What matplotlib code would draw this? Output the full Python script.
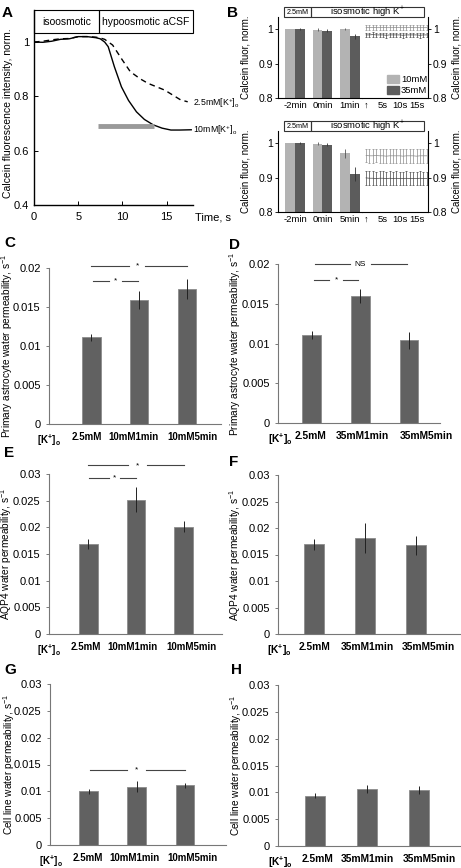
import numpy as np
import matplotlib
matplotlib.use('Agg')
from matplotlib import pyplot as plt
from matplotlib.patches import Rectangle, Patch

plt.rcParams['font.family'] = ['Liberation Sans', 'DejaVu Sans']
plt.rcParams['mathtext.fontset'] = 'custom'
plt.rcParams['mathtext.rm'] = 'Liberation Sans'
plt.rcParams['mathtext.it'] = 'Liberation Sans:italic'
plt.rcParams['mathtext.bf'] = 'Liberation Sans:bold'

W, H = 461, 868

# ---- panel A : calcein trace
t_10mM = [0, 1, 2, 3, 4, 5, 6, 7, 7.5, 8, 8.4, 9.1, 9.9, 10.7, 11.6, 12.5, 13.5, 14.5, 15.5, 16.5, 17.8]
f_10mM = [1.0, 0.999, 1.003, 1.01, 1.012, 1.02, 1.02, 1.016, 1.012, 1.0, 0.983, 0.909, 0.835, 0.785,
          0.743, 0.715, 0.695, 0.683, 0.676, 0.676, 0.677]
t_25mM = [0, 1, 2, 3, 4, 5, 6, 7, 7.5, 8, 8.9, 10.0, 10.9, 12.0, 12.9, 14.8, 16.6, 17.4]
f_25mM = [1.0, 1.003, 1.008, 1.012, 1.013, 1.02, 1.02, 1.018, 1.015, 1.01, 0.989, 0.934, 0.891,
          0.865, 0.848, 0.823, 0.787, 0.78]
fit_window = [7.3, 13.6]
fit_level = 0.69
switch_time = 7.4

# ---- panel B : bar + time course
b_cats_top = ['-2min', '0min', '1min']
b_cats_bot = ['-2min', '0min', '5min']
b10_top = [1.0, 0.998, 1.001]
b10_top_err = [0.001, 0.004, 0.003]
b35_top = [1.0, 0.995, 0.979]
b35_top_err = [0.002, 0.004, 0.008]
b10_bot = [1.0, 0.998, 0.970]
b10_bot_err = [0.001, 0.004, 0.012]
b35_bot = [1.0, 0.995, 0.910]
b35_bot_err = [0.002, 0.004, 0.020]

ts_time = list(range(19))
ts10_top = [1.004, 1.004, 1.005, 1.004, 1.004, 1.005, 1.004, 1.004, 1.004, 1.005,
            1.004, 1.004, 1.004, 1.005, 1.004, 1.004, 1.004, 1.004, 1.004]
ts35_top = [0.983, 0.983, 0.984, 0.983, 0.983, 0.983, 0.982, 0.983, 0.983, 0.983,
            0.983, 0.982, 0.983, 0.983, 0.983, 0.983, 0.982, 0.983, 0.983]
ts_top_err = 0.007
ts10_bot = [0.964, 0.963, 0.963, 0.964, 0.963, 0.963, 0.962, 0.963, 0.963, 0.963,
            0.963, 0.962, 0.963, 0.963, 0.963, 0.962, 0.963, 0.963, 0.963]
ts35_bot = [0.899, 0.898, 0.898, 0.897, 0.898, 0.898, 0.897, 0.898, 0.897, 0.898,
            0.897, 0.897, 0.898, 0.897, 0.897, 0.897, 0.898, 0.897, 0.897]
ts_bot_err = 0.02

# ---- panels C-H : permeability
k_lab = r'$\mathbf{[K^{+}]_{o}}$'
cats10 = ['2.5mM', '10mM1min', '10mM5min']
cats35 = ['2.5mM', '35mM1min', '35mM5min']
C_vals, C_err = [0.0111, 0.0159, 0.0173], [0.0005, 0.0011, 0.0013]
D_vals, D_err = [0.0111, 0.0160, 0.0104], [0.0005, 0.0009, 0.0011]
E_vals, E_err = [0.0169, 0.0252, 0.0201], [0.0010, 0.0024, 0.0010]
F_vals, F_err = [0.0169, 0.0181, 0.0167], [0.0010, 0.0029, 0.0018]
G_vals, G_err = [0.0100, 0.0109, 0.0111], [0.0005, 0.0010, 0.0004]
H_vals, H_err = [0.0094, 0.0106, 0.0104], [0.0005, 0.0008, 0.0007]
# (x start, x end, y, label x, half gap, label)
C_sig = [(0.04, 0.98, 0.0183, 0.51, 0.14, '*'), (0.0, 2.0, 0.0203, 0.96, 0.17, '*')]
D_sig = [(0.04, 0.95, 0.0180, 0.50, 0.15, '*'), (0.06, 1.96, 0.0200, 1.0, 0.22, 'NS')]
E_sig = [(0.02, 1.0, 0.0292, 0.55, 0.12, '*'), (0.0, 2.0, 0.0316, 1.03, 0.2, '*')]
G_sig = [(0.02, 2.0, 0.0140, 1.0, 0.2, '*')]

fig = plt.figure(figsize=(W / 100, H / 100), dpi=100)


def px_axes(x0, y0, x1, y1):
    return fig.add_axes([x0 / W, 1 - y1 / H, (x1 - x0) / W, (y1 - y0) / H])


def letter(x, y, s):
    fig.text(x / W, 1 - y / H, s, fontsize=11, fontweight='bold', va='top', ha='left')


def fig_box(x0, y0, x1, y1, s, fs):
    fig.add_artist(Rectangle((x0 / W, 1 - y1 / H), (x1 - x0) / W, (y1 - y0) / H,
                             transform=fig.transFigure, fill=False, lw=0.8, ec='#333'))
    fig.text((x0 + x1) / 2 / W, 1 - (y0 + y1) / 2 / H, s, fontsize=fs, ha='center', va='center')


# ===== A
ax = px_axes(34, 10, 193, 205)
ax.plot(t_10mM, f_10mM, color='black', lw=1.0)
ax.plot(t_25mM, f_25mM, color='black', lw=1.0, dashes=(4, 3))
ax.plot(fit_window, [fit_level, fit_level], color='#9a9a9a', lw=3.5, solid_capstyle='butt')
ax.set_xlim(0, 18)
ax.set_ylim(0.4, 1.118)
box_lo = 1.033
ax.add_patch(Rectangle((0, box_lo), switch_time, 1.118 - box_lo, fill=False, lw=0.8, clip_on=False))
ax.add_patch(Rectangle((switch_time, box_lo), 18 - switch_time, 1.118 - box_lo, fill=False, lw=0.8, clip_on=False))
ax.text(switch_time / 2, (box_lo + 1.118) / 2, 'isoosmotic', ha='center', va='center', fontsize=7.5)
ax.text((switch_time + 18) / 2, (box_lo + 1.118) / 2, 'hypoosmotic aCSF', ha='center', va='center', fontsize=7.5)
ax.text(18.05, f_25mM[-1] - 0.005, r'2.5mM[K$^{+}$]$_{\mathrm{o}}$', fontsize=6.3, va='center', clip_on=False)
ax.text(18.05, f_10mM[-1], r'10mM[K$^{+}$]$_{\mathrm{o}}$', fontsize=6.3, va='center', clip_on=False)
ax.set_xticks([0, 5, 10, 15])
ax.set_yticks([0.4, 0.6, 0.8, 1.0])
ax.set_yticklabels(['0.4', '0.6', '0.8', '1'])
ax.tick_params(direction='in', length=3, labelsize=8, width=0.7)
ax.tick_params(axis='x', pad=5)
for s in ['top', 'right']:
    ax.spines[s].set_visible(False)
for s in ['left', 'bottom']:
    ax.spines[s].set_linewidth(1.0)
ax.set_ylabel('Calcein fluorescence intensity, norm.', fontsize=7.5)
ax.yaxis.set_label_coords(-0.13, 0.47)
fig.text(195 / W, 1 - 217 / H, 'Time, s', fontsize=8, va='center')
letter(2, 6, 'A')


# ===== B
def b_panel(y0, cats, v10, e10, v35, e35, ts10, ts35, ts_err, legend):
    y1 = y0 + 81
    axb = px_axes(278, y0, 362, y1)
    axt = px_axes(362, y0, 428, y1)
    pos = np.arange(len(cats))
    axb.bar(pos - 0.18, v10, 0.36, color='#b3b3b3', yerr=e10,
            error_kw=dict(ecolor='#555', elinewidth=0.6, capsize=0))
    axb.bar(pos + 0.18, v35, 0.36, color='#5c5c5c', yerr=e35,
            error_kw=dict(ecolor='#333', elinewidth=0.6, capsize=0))
    axb.set_xlim(-0.62, 2.44)
    axb.set_ylim(0.8, 1.035)
    axb.set_xticks(pos)
    axb.set_xticklabels(cats)
    axb.set_yticks([0.8, 0.9, 1.0])
    axb.set_yticklabels(['0.8', '0.9', '1'])
    axb.tick_params(axis='y', direction='out', length=2, labelsize=7.5, pad=1.5, width=0.6)
    axb.tick_params(axis='x', length=0, labelsize=6.8, pad=2)
    axb.spines['top'].set_visible(False)
    axb.spines['right'].set_visible(False)
    axb.set_ylabel('Calcein fluor, norm.', fontsize=7)
    axb.yaxis.set_label_coords(-0.33, 0.5)

    axt.errorbar(ts_time, ts10, yerr=ts_err, color='#8a8a8a', lw=0.5, elinewidth=0.5, capsize=0.8, capthick=0.5)
    axt.errorbar(ts_time, ts35, yerr=ts_err, color='#444', lw=0.5, elinewidth=0.5, capsize=0.8, capthick=0.5)
    axt.set_xlim(-1.2, 18.4)
    axt.set_ylim(0.8, 1.035)
    axt.set_xticks([0, 5, 10, 15])
    axt.set_xticklabels(['\u2191', '5s', '10s', '15s'])
    axt.tick_params(axis='x', length=0, labelsize=6.8, pad=2)
    axt.yaxis.tick_right()
    axt.yaxis.set_label_position('right')
    axt.set_yticks([0.8, 0.9, 1.0])
    axt.set_yticklabels(['0.8', '0.9', '1'])
    axt.tick_params(axis='y', direction='out', length=2, labelsize=7.5, pad=1.5, width=0.6)
    axt.spines['top'].set_visible(False)
    axt.spines['left'].set_visible(False)
    axt.set_ylabel('Calcein fluor, norm.', fontsize=7)
    axt.yaxis.set_label_coords(1.36, 0.5)
    if legend:
        axt.legend(handles=[Patch(color='#b3b3b3', label='10mM'), Patch(color='#5c5c5c', label='35mM')],
                   loc='lower right', bbox_to_anchor=(1.0, 0.02), frameon=False, fontsize=6.8,
                   handlelength=1.3, handleheight=0.9, labelspacing=0.25, handletextpad=0.2,
                   borderpad=0.1, borderaxespad=0)
    fig_box(284, y0 - 10, 311, y0, '2.5mM', 5.2)
    fig_box(311, y0 - 10, 424, y0, 'isosmotic high K$^{+}$', 6.8)


b_panel(17, b_cats_top, b10_top, b10_top_err, b35_top, b35_top_err, ts10_top, ts35_top, ts_top_err, True)
b_panel(131, b_cats_bot, b10_bot, b10_bot_err, b35_bot, b35_bot_err, ts10_bot, ts35_bot, ts_bot_err, False)
letter(227, 6, 'B')


# ===== C-H
def perm_panel(box, xlim, vals, errs, cats, lab_pos, lab_fs, ymax, ylabel, label_x, sig):
    ax = px_axes(*box)
    pos = np.arange(len(vals))
    ax.bar(pos, vals, 0.39, color='#616161', edgecolor='#8c8c8c', lw=0.6, yerr=errs,
           error_kw=dict(ecolor='#222', elinewidth=0.7, capsize=0))
    ax.set_xlim(*xlim)
    ax.set_ylim(0, ymax)
    ticks = np.arange(0, ymax + 1e-9, 0.005)
    ax.set_yticks(ticks)
    ax.set_yticklabels(['0' if t == 0 else ('%.3f' % t).rstrip('0') for t in ticks])
    ax.set_xticks(lab_pos)
    ax.set_xticklabels([k_lab] + cats, fontweight='bold')
    ax.tick_params(axis='x', length=0, labelsize=lab_fs, pad=6)
    ax.tick_params(axis='y', direction='out', length=2.5, labelsize=8, width=0.6, color='#666')
    ax.spines['top'].set_visible(False)
    ax.spines['right'].set_visible(False)
    ax.spines['left'].set_color('#777')
    ax.spines['bottom'].set_color('#777')
    ax.set_ylabel(ylabel, fontsize=7.3)
    ax.yaxis.set_label_coords(label_x, 0.5)
    for x1, x2, y, xm, gap, txt in sig:
        ax.plot([x1, xm - gap], [y, y], color='#444', lw=0.8, clip_on=False)
        ax.plot([xm + gap, x2], [y, y], color='#444', lw=0.8, clip_on=False)
        ax.text(xm, y, txt, ha='center', va='center', fontsize=6, clip_on=False)
    return ax


lab_prim = 'Primary astrocyte water permeability, s$^{-1}$'
lab_aqp = 'AQP4 water permeability, s$^{-1}$'
lab_cell = 'Cell line water permeability, s$^{-1}$'

perm_panel((49, 268, 221, 424), (-0.8, 2.71), C_vals, C_err, cats10, [-0.88, -0.1, 0.88, 2.12], 7,
           0.02, lab_prim, -0.20, C_sig)
perm_panel((278, 264, 440, 423), (-0.70, 2.64), D_vals, D_err, cats35, [-0.64, -0.04, 1.04, 2.35], 7.4,
           0.02, lab_prim, -0.215, D_sig)
perm_panel((49, 474, 222, 634), (-0.82, 2.8), E_vals, E_err, cats10, [-0.82, -0.06, 0.93, 2.17], 7,
           0.03, lab_aqp, -0.20, E_sig)
perm_panel((278, 475, 460, 634), (-0.7, 2.86), F_vals, F_err, cats35, [-0.67, 0.02, 1.04, 2.25], 7.4,
           0.03, lab_aqp, -0.19, [])
perm_panel((50, 684, 226, 845), (-0.8, 2.85), G_vals, G_err, cats10, [-0.78, -0.02, 0.95, 2.16], 7,
           0.03, lab_cell, -0.19, G_sig)
perm_panel((278, 685, 460, 846), (-0.71, 2.79), H_vals, H_err, cats35, [-0.67, 0.04, 1.0, 2.21], 7.4,
           0.03, lab_cell, -0.187, [])

letter(4, 236, 'C')
letter(229, 238, 'D')
letter(4, 446, 'E')
letter(229, 455, 'F')
letter(4, 663, 'G')
letter(231, 663, 'H')

fig.savefig('out.png', dpi=100)
